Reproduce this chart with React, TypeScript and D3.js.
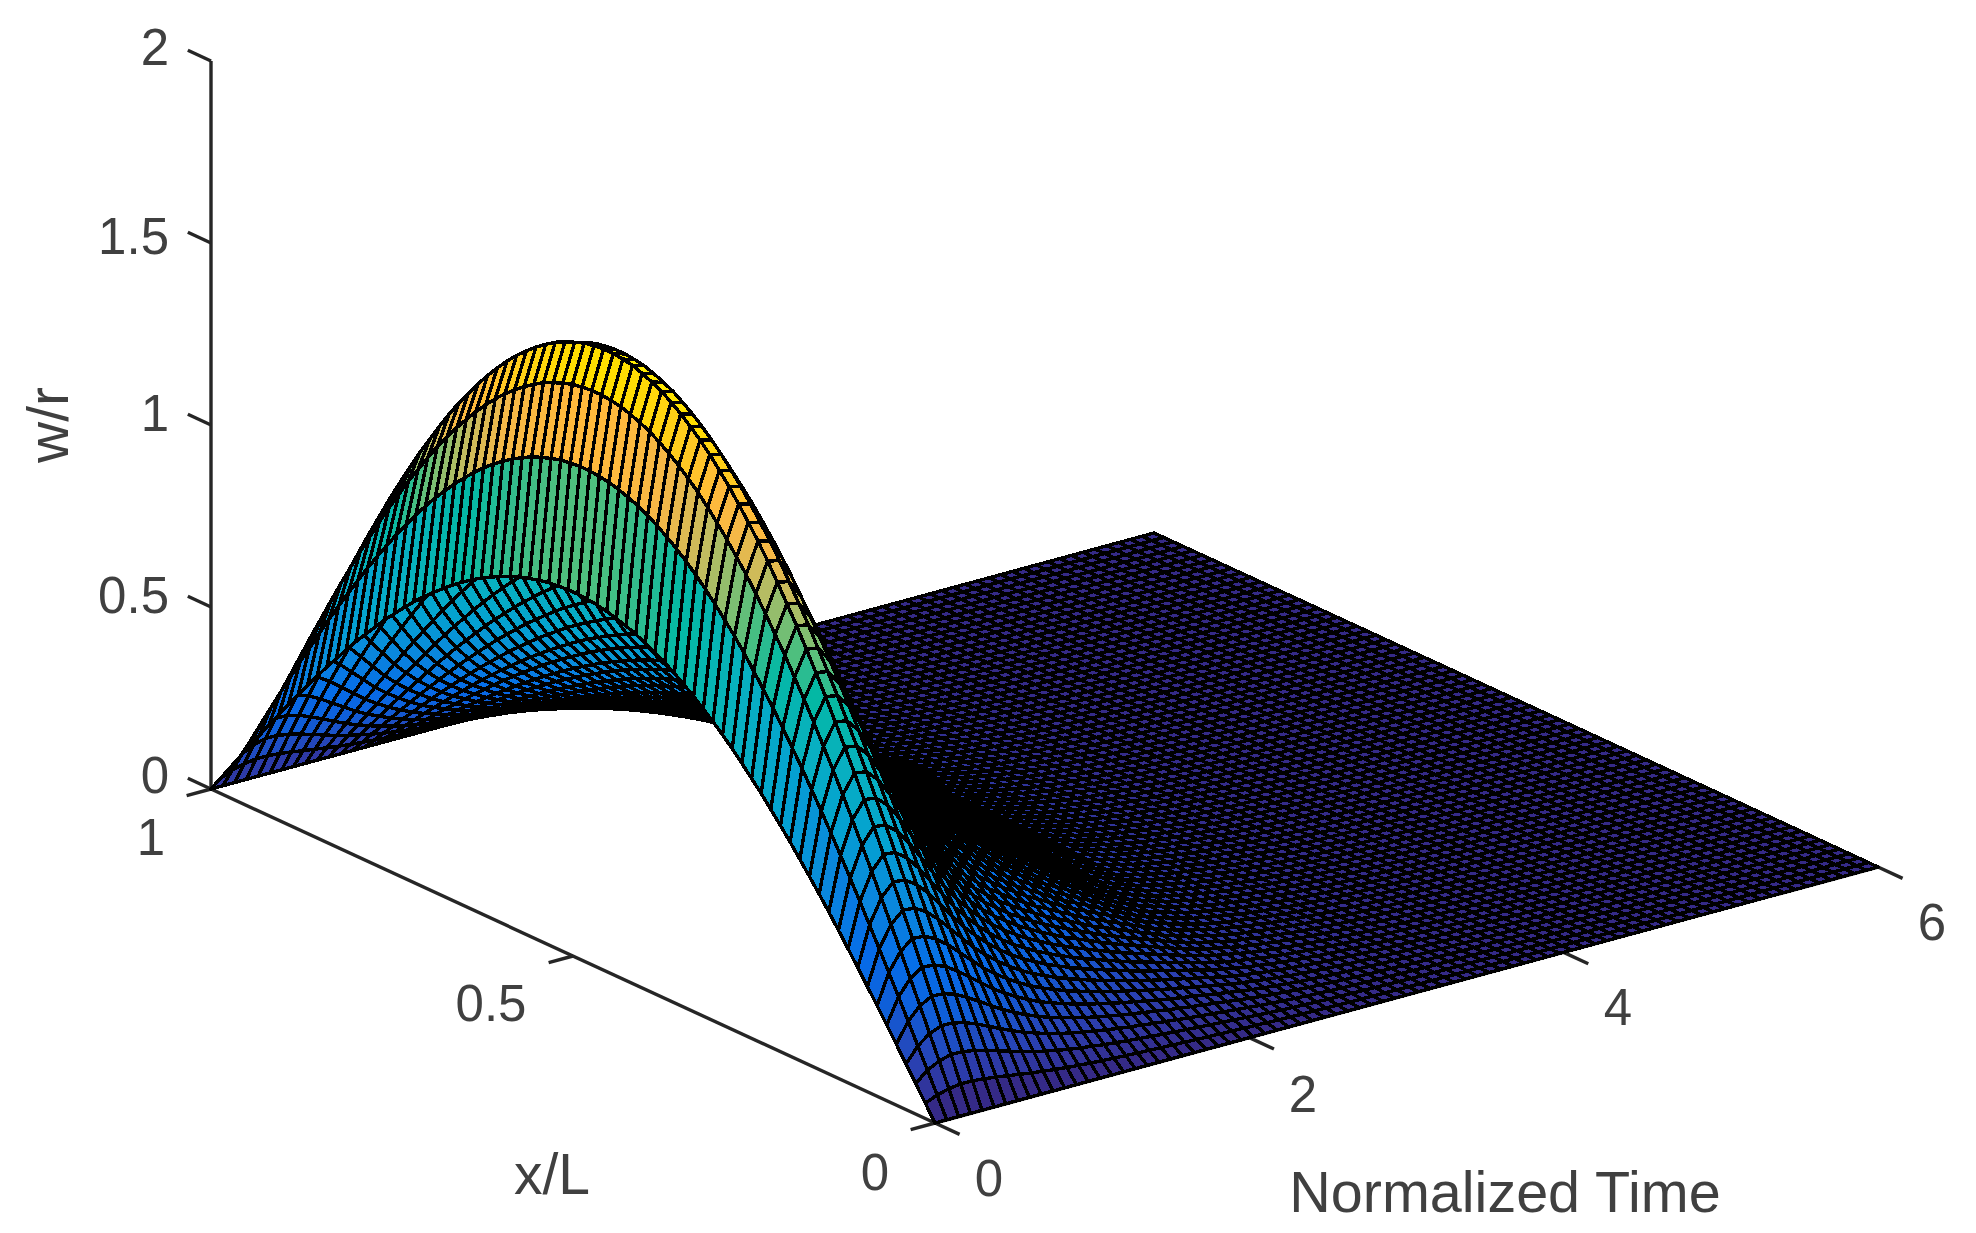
import React, { useEffect, useRef } from 'react';
import * as d3 from 'd3';

const beamShape = [
  0, 0.042, 0.084, 0.125, 0.167, 0.208, 0.249, 0.289, 0.329, 0.368, 0.407, 0.445, 0.482, 0.518, 0.553, 0.588,
  0.621, 0.653, 0.685, 0.714, 0.743, 0.771, 0.797, 0.821, 0.844, 0.866, 0.886, 0.905, 0.922, 0.937, 0.951, 0.963,
  0.974, 0.982, 0.989, 0.995, 0.998, 1, 1, 0.998, 0.995, 0.989, 0.982, 0.974, 0.963, 0.951, 0.937, 0.922,
  0.905, 0.886, 0.866, 0.844, 0.821, 0.797, 0.771, 0.743, 0.714, 0.685, 0.653, 0.621, 0.588, 0.553, 0.518, 0.482,
  0.445, 0.407, 0.368, 0.329, 0.289, 0.249, 0.208, 0.167, 0.125, 0.084, 0.042, 0,
];
const timeAmplitude = [
  1.0, 1.33, 1.53, 1.635, 1.625, 1.56, 1.46, 1.34, 1.22, 1.1, 1.0, 0.91, 0.83, 0.76, 0.7, 0.65,
  0.6, 0.56, 0.52, 0.485, 0.45, 0.42, 0.39, 0.36, 0.33, 0.305, 0.28, 0.255, 0.23, 0.205, 0.18, 0.16,
  0.14, 0.125, 0.11, 0.095, 0.085, 0.075, 0.066, 0.058, 0.05, 0.044, 0.038, 0.033, 0.028, 0.024, 0.021, 0.018,
  0.015, 0.013, 0.011, 0.0095, 0.008, 0.007, 0.006, 0.005, 0.0045, 0.004, 0.0035, 0.003, 0.0025, 0.002, 0.002, 0.002,
  0.002, 0.002, 0.002, 0.0015, 0.0015, 0.0015, 0.0015, 0.0015, 0.001, 0.001, 0.001, 0.001, 0.001, 0.001, 0.001, 0.001, 0.001,
];

const xTicks = [0, 0.5, 1];
const timeTicks = [0, 2, 4, 6];
const zTicks = [0, 0.5, 1, 1.5, 2];

const colorLevels = [0, 0.08, 0.2, 0.3, 0.45, 0.6, 0.75, 0.9, 1.0, 1.15, 1.25, 1.33, 1.53, 1.64];
const colorValues = ['#352a87', '#2b3fb0', '#0f5ed8', '#066ce8', '#0a88dc', '#04a2d0', '#08b0c0', '#04b8a4', '#4fbf7e', '#c0bc60', '#f4b848', '#ffb93c', '#ffde00', '#ffee00'];

// orthographic projection, each data axis moves the screen point linearly
const xToScreenX = d3.scaleLinear().domain([0, 1]).range([0, -724]);
const xToScreenY = d3.scaleLinear().domain([0, 1]).range([0, -334]);
const tToScreenX = d3.scaleLinear().domain([0, 6]).range([0, 943]);
const tToScreenY = d3.scaleLinear().domain([0, 6]).range([0, -256]);
const zToScreenY = d3.scaleLinear().domain([0, 2]).range([0, -728]);
const project = (x, t, z) => [935 + xToScreenX(x) + tToScreenX(t), 1123 + xToScreenY(x) + tToScreenY(t) + zToScreenY(z)];

const axisColor = '#262626';
const textColor = '#404040';

function Surface() {
  const ref = useRef(null);

  useEffect(() => {
    const svg = d3.select(ref.current).html('');
    const line = d3.line();
    const color = d3.scaleLinear().domain(colorLevels).range(colorValues).clamp(true);

    const xGrid = d3.scaleLinear().domain([0, beamShape.length - 1]).range([0, 1]);
    const tGrid = d3.scaleLinear().domain([0, timeAmplitude.length - 1]).range([0, 6]);
    const height = (i, j) => beamShape[i] * timeAmplitude[j];
    const vertex = (i, j) => project(xGrid(i), tGrid(j), height(i, j));

    // axes go under the surface
    const axes = svg.append('g').attr('stroke', axisColor).attr('stroke-width', 3.4).attr('fill', 'none');
    const seg = (a, b) => axes.append('path').attr('d', line([a, b]));
    seg(project(1, 0, 0), project(0, 0, 0));
    seg(project(0, 0, 0), project(0, 6, 0));
    seg(project(1, 0, 0), project(1, 0, 2));
    zTicks.forEach((z) => seg(project(1, 0, z), project(1.032, 0, z)));
    xTicks.forEach((x) => seg(project(x, 0, 0), project(x, -0.155, 0)));
    timeTicks.forEach((t) => seg(project(0, t, 0), project(-0.034, t, 0)));

    // painter's order: far corner first, near corner (x=0, t=0) last
    const cells = [];
    for (let j = timeAmplitude.length - 2; j >= 0; j--) {
      for (let i = beamShape.length - 2; i >= 0; i--) {
        cells.push({ i, j });
      }
    }
    svg.append('g')
      .attr('stroke', '#000')
      .attr('stroke-width', 3.4)
      .attr('stroke-linejoin', 'round')
      .attr('shape-rendering', 'crispEdges')
      .selectAll('path')
      .data(cells)
      .enter().append('path')
      .attr('d', ({ i, j }) => line([vertex(i, j), vertex(i + 1, j), vertex(i + 1, j + 1), vertex(i, j + 1)]) + 'Z')
      .attr('fill', ({ i, j }) => color(height(i, j)));

    const text = svg.append('g')
      .attr('fill', textColor)
      .attr('font-family', '"Liberation Sans", Arial, sans-serif')
      .attr('text-anchor', 'middle');
    const label = (s, x, y, size = 51) => text.append('text')
      .attr('x', x).attr('y', y).attr('font-size', size).attr('dy', '0.36em').text(s);

    const zLabelY = [775, 595, 413, 236, 47];
    zTicks.forEach((z, k) => {
      label(String(z), 169, zLabelY[k]).attr('text-anchor', 'end');
    });
    const xLabelPos = [[875, 1172], [491, 1003], [151, 837]];
    xTicks.forEach((x, k) => {
      label(String(x), xLabelPos[k][0], xLabelPos[k][1]);
    });
    const timeLabelPos = [[989, 1178], [1303, 1094], [1618, 1007], [1932, 922]];
    timeTicks.forEach((t, k) => {
      label(String(t), timeLabelPos[k][0], timeLabelPos[k][1]);
    });

    label('x/L', 552, 1173, 57);
    label('Normalized Time', 1505, 1191, 57.5);
    label('w/r', 0, 0, 57).attr('transform', 'translate(47,425) rotate(-90)');
  }, []);

  return <svg ref={ref} width={1976} height={1233} style={{ position: 'absolute', left: 0, top: 0, background: '#fff' }} />;
}

export default function App() {
  return <Surface />;
}
